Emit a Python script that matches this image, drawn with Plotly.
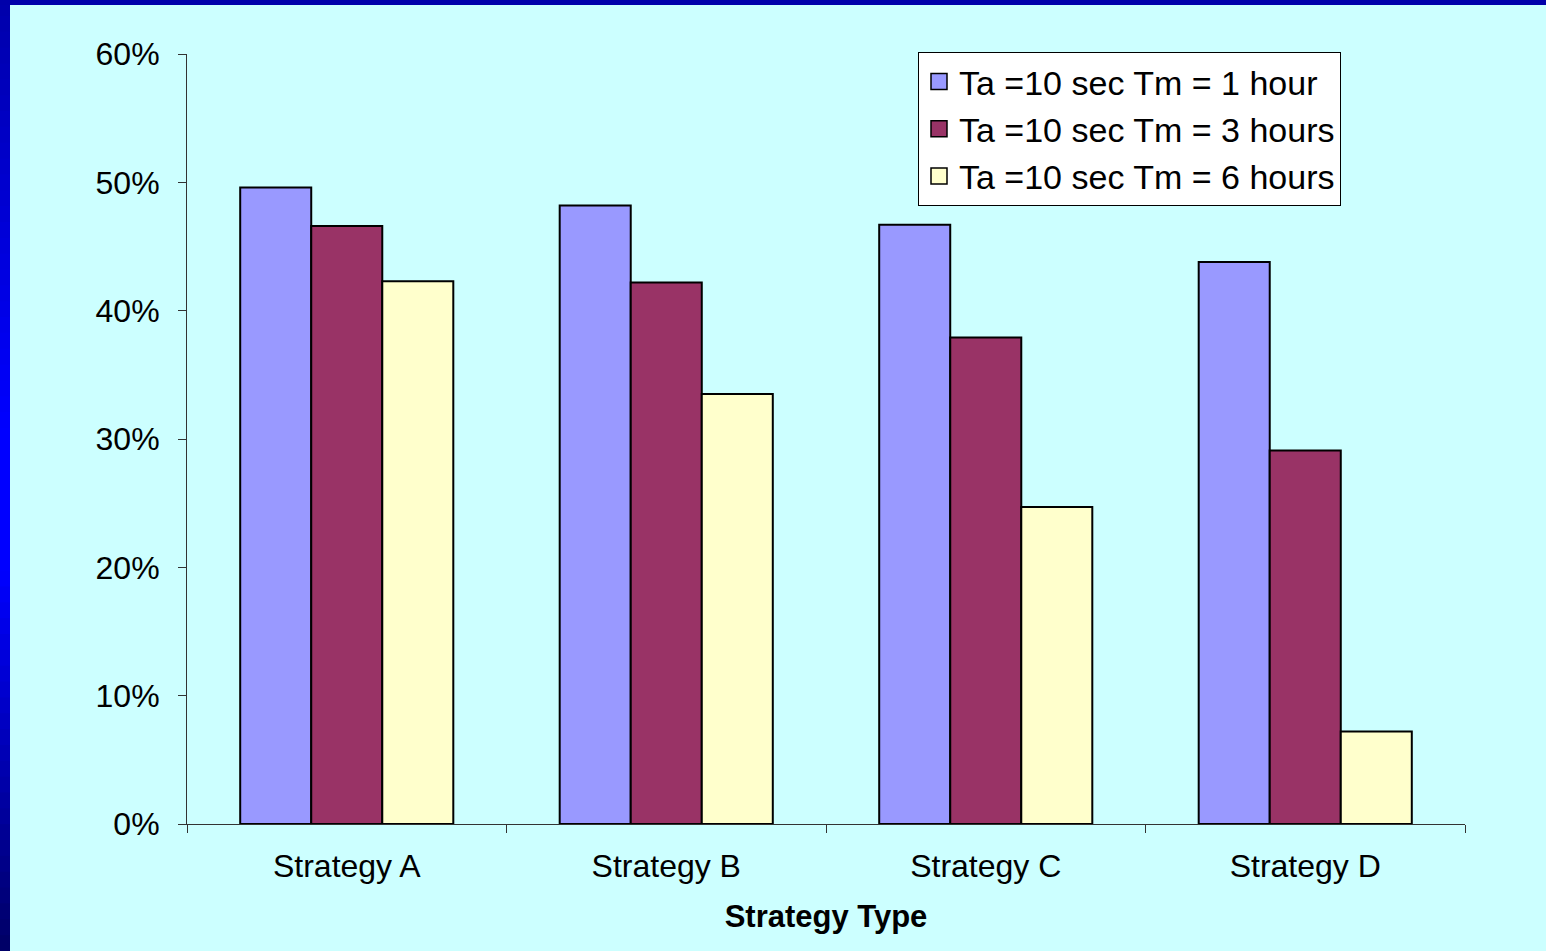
import plotly.graph_objects as go

# Chart data
categories = ["Strategy A", "Strategy B", "Strategy C", "Strategy D"]
series_names = [
    "Ta =10 sec Tm = 1 hour",
    "Ta =10 sec Tm = 3 hours",
    "Ta =10 sec Tm = 6 hours",
]
tm_1h = [0.496, 0.482, 0.467, 0.438]
tm_3h = [0.466, 0.422, 0.379, 0.291]
tm_6h = [0.423, 0.335, 0.247, 0.072]
series_values = [tm_1h, tm_3h, tm_6h]
series_colors = ["#9999FF", "#993366", "#FFFFCC"]
y_ticks = [0, 0.1, 0.2, 0.3, 0.4, 0.5, 0.6]
y_tick_labels = ["0%", "10%", "20%", "30%", "40%", "50%", "60%"]

W, H = 1546, 951
ML, MR, MT, MB = 187, 81, 54, 127
PW = W - ML - MR
PH = H - MT - MB

FONT = "Liberation Sans, Arial, sans-serif"

fig = go.Figure()
for name, vals, col in zip(series_names, series_values, series_colors):
    fig.add_trace(go.Bar(
        x=categories, y=vals, name=name,
        marker=dict(color=col, line=dict(color="#000000", width=2)),
        showlegend=False,
    ))

# Legend entries with larger square swatches
for i, (name, col) in enumerate(zip(series_names, series_colors)):
    fig.add_trace(go.Scatter(
        x=[None], y=[None], mode="markers", name=name,
        marker=dict(symbol="square", size=18, color=col,
                    line=dict(color="#000000", width=1.5)),
        legendgroup=f"g{i}", showlegend=True,
    ))

# Slide frame: dark blue band along the top, gradient band on the left
def px_x(px):
    return (px - ML) / PW

def px_y(py):
    return (H - MB - py) / PH

shapes = []

def lerp(c1, c2, t):
    return tuple(round(a + (b - a) * t) for a, b in zip(c1, c2))

top_c, mid_c, bot_c = (0, 0, 170), (0, 0, 255), (0, 0, 100)
n = 60
for k in range(n):
    y0p = H * k / n
    y1p = H * (k + 1) / n + 2
    t = (k + 0.5) / n
    if t < 0.45:
        c = lerp(top_c, mid_c, t / 0.45)
    elif t < 0.6:
        c = mid_c
    else:
        c = lerp(mid_c, bot_c, (t - 0.6) / 0.4)
    shapes.append(dict(type="rect", xref="paper", yref="paper",
                       x0=px_x(-1), x1=px_x(10), y0=px_y(y1p), y1=px_y(y0p),
                       fillcolor="rgb(%d,%d,%d)" % c, line=dict(width=0), layer="above"))

shapes.append(dict(type="rect", xref="paper", yref="paper",
                   x0=px_x(-1), x1=px_x(W + 1), y0=px_y(5), y1=px_y(-1),
                   fillcolor="#0000AA", line=dict(width=0), layer="above"))

fig.update_layout(
    width=W, height=H,
    margin=dict(l=ML, r=MR, t=MT, b=MB),
    paper_bgcolor="#CCFFFF",
    plot_bgcolor="#CCFFFF",
    barmode="group",
    bargap=0.333,
    bargroupgap=0,
    font=dict(family=FONT, color="#000000", size=32),
    shapes=shapes,
    legend=dict(
        x=px_x(918), y=px_y(52), xanchor="left", yanchor="top",
        bgcolor="#FFFFFF", bordercolor="#000000", borderwidth=1,
        font=dict(family=FONT, size=34, color="#000000"),
        tracegroupgap=0,
        itemwidth=30,
        entrywidth=460,
        entrywidthmode="pixels",
    ),
    xaxis=dict(
        showline=True, linecolor="#333333", linewidth=1,
        ticks="outside", tickson="boundaries", ticklen=8, tickcolor="#333333",
        tickfont=dict(family=FONT, size=32),
        ticklabelstandoff=14,
        title=dict(text="<b>Strategy Type</b>", font=dict(family=FONT, size=31), standoff=21),
        showgrid=False, zeroline=False,
    ),
    yaxis=dict(
        range=[0, 0.6],
        tickvals=y_ticks, ticktext=y_tick_labels,
        showline=True, linecolor="#333333", linewidth=1,
        ticks="outside", ticklen=8, tickcolor="#333333",
        tickfont=dict(family=FONT, size=32),
        ticklabelstandoff=12,
        showgrid=False, zeroline=False,
    ),
)

fig.write_html("out.html")
